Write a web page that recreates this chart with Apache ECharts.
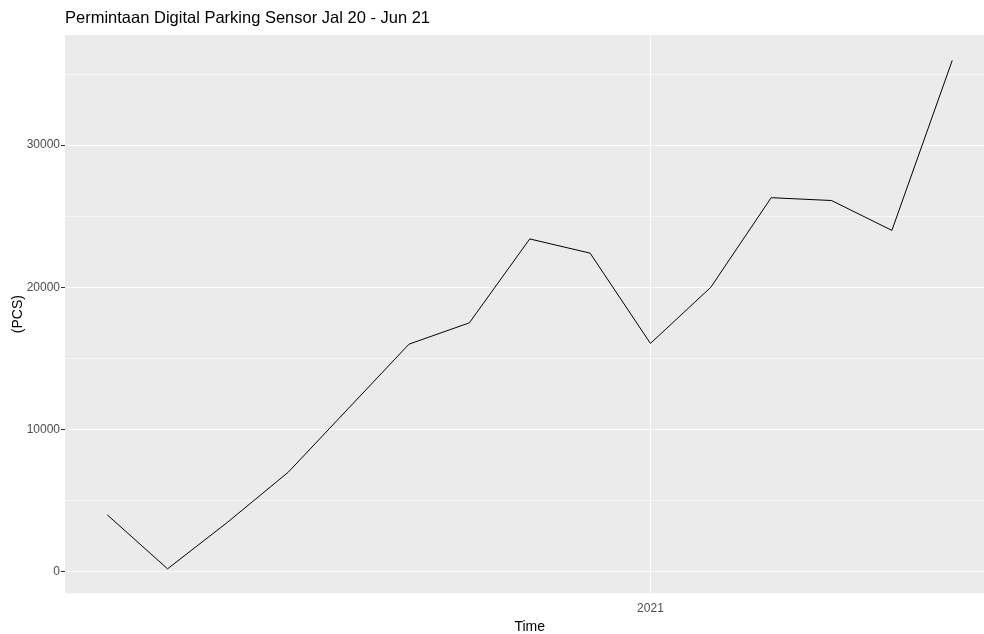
<!DOCTYPE html>
<html>
<head>
<meta charset="utf-8">
<script src="https://cdn.jsdelivr.net/npm/echarts@6/dist/echarts.min.js"></script>
<style>html,body{margin:0;padding:0;background:#fff}#c{width:984px;height:634px}</style>
</head>
<body>
<div id="c"></div>
<script>
// Months Apr 2020 .. Jun 2021 expressed as decimal years
const months = ['2020-04','2020-05','2020-06','2020-07','2020-08','2020-09','2020-10','2020-11','2020-12','2021-01','2021-02','2021-03','2021-04','2021-05','2021-06'];
const demand = [4000, 200, 3500, 7000, 11500, 16000, 17500, 23400, 22400, 16050, 20000, 26300, 26100, 24000, 35950];
const xTicks = [2021];
const yTicks = [0, 10000, 20000, 30000];
const yMinor = [5000, 15000, 25000, 35000];

const toYear = m => { const [y, mo] = m.split('-').map(Number); return y + (mo - 1) / 12; };
const seriesData = months.map((m, i) => [toYear(m), demand[i]]);

const font = 'Liberation Sans, Arial, sans-serif';
const chart = echarts.init(document.getElementById('c'), null, {renderer: 'canvas'});
const gridLines = [];
yTicks.forEach(v => gridLines.push({yAxis: v, lineStyle: {width: 1.1}}));
yMinor.forEach(v => gridLines.push({yAxis: v, lineStyle: {width: 0.6}}));
xTicks.forEach(v => gridLines.push({xAxis: v, lineStyle: {width: 1.1}}));

chart.setOption({
  backgroundColor: '#ffffff',
  animation: false,
  title: {
    text: 'Permintaan Digital Parking Sensor Jal 20 - Jun 21',
    left: 65, top: 10, padding: 0,
    textStyle: {fontFamily: font, fontSize: 16.5, fontWeight: 'normal', color: '#000'}
  },
  grid: {
    left: 65, top: 35, right: -10.5, bottom: 40.7,
    outerBoundsMode: 'none', containLabel: false,
    show: true, backgroundColor: '#EBEBEB', borderWidth: 0
  },
  xAxis: {
    type: 'value',
    min: 2020.1917, max: 2021.475,
    name: 'Time', nameLocation: 'middle', nameGap: 27, nameMoveOverlap: false,
    nameTextStyle: {fontFamily: font, fontSize: 14, color: '#000'},
    axisLine: {show: false},
    splitLine: {show: false},
    axisTick: {show: true, customValues: xTicks, length: 4, lineStyle: {color: '#333333', width: 1}},
    axisLabel: {customValues: xTicks, formatter: v => String(v), color: '#4D4D4D', fontFamily: font, fontSize: 12, margin: 9}
  },
  yAxis: {
    type: 'value',
    min: -1520, max: 37740,
    name: '(PCS)', nameLocation: 'middle', nameGap: 40, nameRotate: 90, nameMoveOverlap: false,
    nameTextStyle: {fontFamily: font, fontSize: 14, color: '#000'},
    axisLine: {show: false},
    splitLine: {show: false},
    axisTick: {show: true, customValues: yTicks, length: 4, lineStyle: {color: '#333333', width: 1}},
    axisLabel: {customValues: yTicks, formatter: v => String(v), color: '#4D4D4D', fontFamily: font, fontSize: 12, margin: 5}
  },
  series: [
    {
      type: 'line', data: seriesData, z: 1, silent: true,
      symbol: 'none', lineStyle: {opacity: 0},
      markLine: {silent: true, symbol: ['none', 'none'], label: {show: false},
        lineStyle: {color: '#ffffff', type: 'solid'}, data: gridLines}
    },
    {
      type: 'line', data: seriesData, z: 5,
      symbol: 'none', lineStyle: {color: '#000000', width: 1}
    }
  ]
});
</script>
</body>
</html>
